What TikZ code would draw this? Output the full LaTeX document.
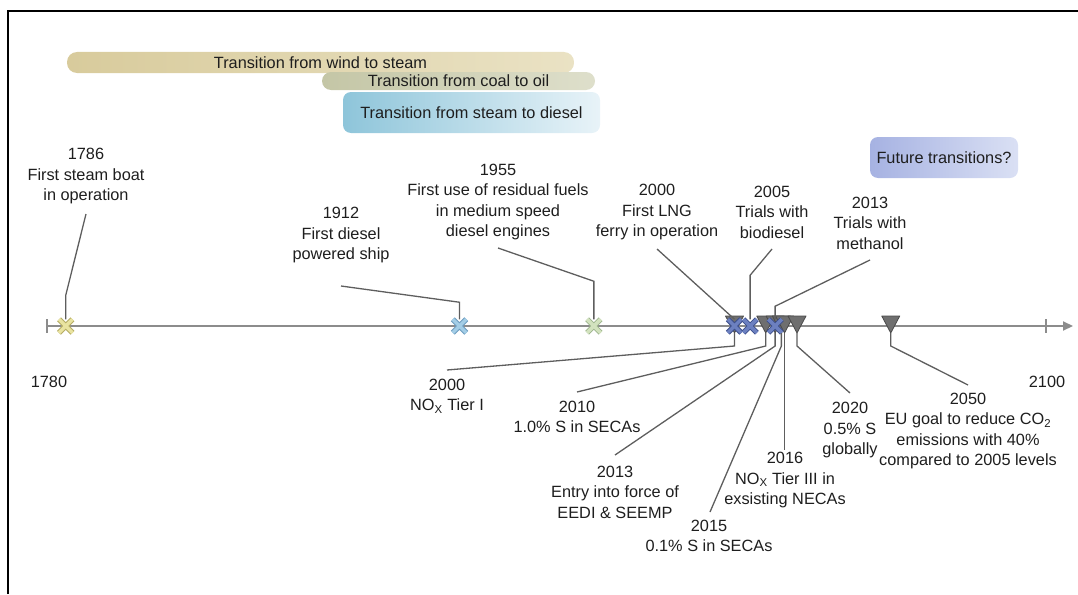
\documentclass[tikz,border=0pt]{standalone}
\usepackage{fontspec}
\setmainfont{Liberation Sans}
\usetikzlibrary{shapes.misc,arrows.meta}
\definecolor{windL}{HTML}{D8CB9C}
\definecolor{windR}{HTML}{EAE2C4}
\definecolor{coalL}{HTML}{C4C6A6}
\definecolor{coalR}{HTML}{DEDFCB}
\definecolor{dieselL}{HTML}{8EC5DA}
\definecolor{dieselR}{HTML}{E8F3F8}
\definecolor{futL}{HTML}{A6B2E2}
\definecolor{futR}{HTML}{DAE0F4}
\definecolor{yelF}{HTML}{E9E3A0}
\definecolor{yelD}{HTML}{B6AD66}
\definecolor{bluF}{HTML}{A3CDE6}
\definecolor{bluD}{HTML}{6C9CBF}
\definecolor{grnF}{HTML}{D2E2BE}
\definecolor{grnD}{HTML}{9DB58D}
\definecolor{navF}{HTML}{6C80C0}
\definecolor{navD}{HTML}{3D4F8C}
\definecolor{triF}{HTML}{6F6F6F}
\definecolor{triD}{HTML}{4A4A4A}
\definecolor{axiscol}{HTML}{8C8C8C}
\definecolor{leadcol}{HTML}{5E5E5E}
\definecolor{txtcol}{HTML}{1E1E1E}
\begin{document}
\begin{tikzpicture}[x=1pt,y=-1pt,
    every node/.style={font=\fontsize{16.3}{20.5}\selectfont, text=txtcol, align=center},
    leader/.style={draw=leadcol, line width=1.3pt},
    axisline/.style={draw=axiscol, line width=2pt},
    fuelmark/.style={cross out, minimum size=12.5pt, inner sep=0pt, line width=1pt, double distance=3.4pt},
    regmark/.style={fill=triF, draw=triD, line width=0.8pt, line join=round},
    transbar/.style={minimum height=21pt, inner sep=0pt, rounded corners=10pt}]
    \useasboundingbox (0,0) rectangle (1078,594);
    \draw[line width=2pt] (8,594) -- (8,11) -- (1078,11);

    \node[transbar, left color=windL, right color=windR, minimum width=507pt] (wind) at (320.5,62.5) {Transition from wind to steam};
    \node[transbar, left color=coalL, right color=coalR, minimum width=273pt, minimum height=18pt, rounded corners=9pt] (coal) at (458.5,81) {Transition from coal to oil};
    \node[transbar, rounded corners=8pt, left color=dieselL, right color=dieselR, minimum width=257pt, minimum height=41pt] (diesel) at (471.5,112.5) {Transition from steam to diesel};
    \node[transbar, rounded corners=8pt, left color=futL, right color=futR, minimum width=148pt, minimum height=41pt] (future) at (944,157.5) {Future transitions?};

    \coordinate (ax0) at (47,326);
    \coordinate (ax1) at (1073,326);
    \draw[axisline, -{Triangle[length=10pt,width=9pt]}] (ax0) -- (ax1);
    \foreach \tx in {47,1046}
      \draw[axisline] (\tx,319) -- (\tx,333);
    \node (y1780) at (49,382) {1780};
    \node (y2100) at (1047,382) {2100};

    \foreach \yr in {2000,2010,2013,2015,2016,2020,2050}
    {
      \coordinate (r\yr) at ({47+(\yr-1780)*3.125},316);
      \coordinate (t\yr) at ({47+(\yr-1780)*3.125},333);
      \draw[regmark] (r\yr) ++(-9,0) -- ++(18,0) -- (t\yr) -- cycle;
    }
    \foreach \yr/\fc/\dc in {1786/yelF/yelD,1912/bluF/bluD,1955/grnF/grnD,2000/navF/navD,2005/navF/navD,2013/navF/navD}
      \node[fuelmark, draw=\dc, double=\fc] (f\yr) at ({47+(\yr-1780)*3.125},326) {};

    \node (l1786) at (86,176) {1786\\First steam boat\\in operation};
    \node (l1912) at (341,235) {1912\\First diesel\\powered ship};
    \node (l1955) at (498,202) {1955\\First use of residual fuels\\in medium speed\\diesel engines};
    \node (l2000u) at (657,212) {2000\\First LNG\\ferry in operation};
    \node (l2005) at (772,212) {2005\\Trials with\\biodiesel};
    \node (l2013u) at (870,223) {2013\\Trials with\\methanol};
    \coordinate (s1786) at (86,214);
    \coordinate (s1912) at (341,286);
    \coordinate (s1955) at (498,248);
    \coordinate (s2000) at (657,249);
    \coordinate (s2005) at (772,249);
    \coordinate (s2013) at (870,260);
    \draw[leader] (s1786) -- ([yshift=24pt]f1786.north) -- (f1786.north);
    \draw[leader] (s1912) -- ([yshift=17pt]f1912.north) -- (f1912.north);
    \draw[leader] (s1955) -- ([yshift=38pt]f1955.north) -- (f1955.north);
    \draw[leader] (s2000) -- (f2000.north);
    \draw[leader] (s2005) -- ([yshift=44pt]f2005.north) -- (f2005.north);
    \draw[leader] (s2013) -- ([yshift=13pt]f2013.north) -- (f2013.north);

    \node (l2000d) at (447,396) {2000\\NO\textsubscript{X} Tier I};
    \node (l2010) at (577,417) {2010\\1.0\% S in SECAs};
    \node (l2013d) at (615,492) {2013\\Entry into force of\\EEDI \& SEEMP};
    \node (l2015) at (709,536) {2015\\0.1\% S in SECAs};
    \node (l2016) at (785,480) {2016\\NO\textsubscript{X} Tier III in\\exsisting NECAs};
    \node (l2020) at (850,430) {2020\\0.5\% S\\globally};
    \node (l2050) at (968,431) {2050\\EU goal to reduce CO\textsubscript{2}\\emissions with 40\%\\compared to 2005 levels};
    \coordinate (e2000) at (447,370);
    \coordinate (e2010) at (577,392);
    \coordinate (e2013) at (615,455);
    \coordinate (e2015) at (710,512);
    \coordinate (e2016) at (784.5,450);
    \coordinate (e2020) at (850,393);
    \coordinate (e2050) at (968,385);
    \foreach \yr in {2000,2010,2013,2015,2020,2050}
      \draw[leader] (t\yr) -- ++(0,13) -- (e\yr);
    \draw[leader] (t2016) -- (e2016);
\end{tikzpicture}
\end{document}
